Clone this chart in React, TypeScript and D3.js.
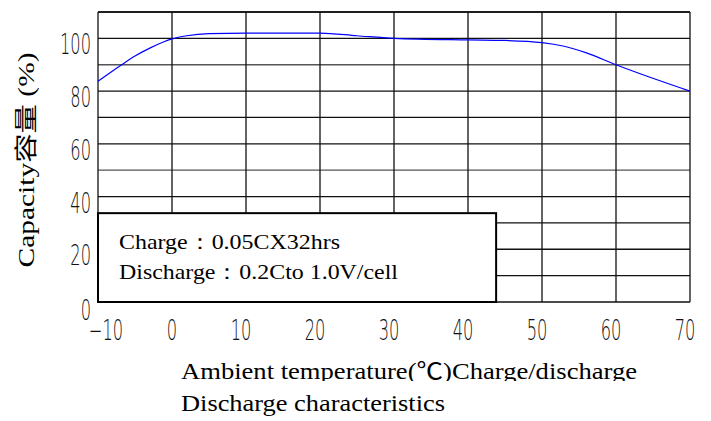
import React, { useEffect, useRef } from "react";
import * as d3 from "d3";

// capacity (%) vs ambient temperature (°C)
const temps = [-10, -7, -5, -3, -1, 0, 2, 5, 10, 20, 25, 30, 40, 45, 50, 53, 56, 60, 70];
const capacity = [83.7, 89.6, 93.3, 96.3, 98.8, 99.8, 101, 101.8, 102, 102, 101, 100, 99.4, 99.2, 98.4, 97, 94.5, 90, 80];

const xTicks = [-10, 0, 10, 20, 30, 40, 50, 60, 70];
const yTicks = [0, 20, 40, 60, 80, 100];
const yGrid = d3.range(0, 111, 10);

const noteLines = ["Charge：0.05CX32hrs", "Discharge：0.2Cto 1.0V/cell"];
const yTitle = "Capacity容量 (%)";
const xTitle1 = "Ambient temperature(℃)Charge/discharge";
const xTitle2 = "Discharge characteristics";

const App = () => {
  const svgRef = useRef(null);
  const width = 711, height = 421;
  const margin = { top: 12, right: 21, bottom: 119, left: 98 };

  useEffect(() => {
    const svg = d3.select(svgRef.current);
    svg.selectAll("*").remove();

    const x = d3.scaleLinear().domain([-10, 70]).range([margin.left, width - margin.right]);
    const y = d3.scaleLinear().domain([0, 110]).range([height - margin.bottom, margin.top]);

    const tickFont = "'DejaVu Sans', sans-serif";

    // grid
    const grid = svg.append("g").attr("stroke", "#111").attr("stroke-width", 1.3);
    grid.selectAll("line.h")
      .data(yGrid)
      .enter()
      .append("line")
      .attr("x1", x(-10)).attr("x2", x(70))
      .attr("y1", d => y(d)).attr("y2", d => y(d))
      .attr("stroke", d => (d === 90 || d === 50 ? "#555" : "#111"));
    grid.selectAll("line.v")
      .data(xTicks)
      .enter()
      .append("line")
      .attr("y1", y(0)).attr("y2", y(110))
      .attr("x1", d => x(d)).attr("x2", d => x(d));
    grid.append("line")
      .attr("x1", x(-10)).attr("x2", x(70))
      .attr("y1", y(110)).attr("y2", y(110));

    // curve
    const line = d3.line()
      .x((d, i) => x(temps[i]))
      .y(d => y(d))
      .curve(d3.curveMonotoneX);
    svg.append("path")
      .datum(capacity)
      .attr("d", line)
      .attr("fill", "none")
      .attr("stroke", "#0000ff")
      .attr("stroke-width", 1.2);

    // note box
    svg.append("rect")
      .attr("x", x(-10)).attr("y", y(33.7))
      .attr("width", x(43.8) - x(-10)).attr("height", y(0) - y(33.7))
      .attr("fill", "#fff").attr("stroke", "#000").attr("stroke-width", 2);
    svg.selectAll("text.note")
      .data(noteLines)
      .enter()
      .append("text")
      .attr("x", 119)
      .attr("y", (d, i) => 249 + i * 30)
      .attr("textLength", (d, i) => (i === 0 ? 221 : 279))
      .attr("lengthAdjust", "spacingAndGlyphs")
      .attr("font-family", "'Liberation Serif', 'Times New Roman', serif")
      .attr("font-size", 21)
      .attr("fill", "#000")
      .text(d => d);

    // y tick labels
    svg.selectAll("text.yt")
      .data(yTicks)
      .enter()
      .append("text")
      .attr("transform", d => `translate(91,${y(d) + (d === 0 ? 18 : 16)}) scale(0.58,1)`)
      .attr("text-anchor", "end")
      .attr("font-family", tickFont)
      .attr("font-weight", 200)
      .attr("font-size", 28)
      .attr("fill", "#111")
      .text(d => d);

    // x tick labels
    svg.selectAll("text.xt")
      .data(xTicks)
      .enter()
      .append("text")
      .attr("transform", d => `translate(${x(d) + (d === -10 ? 8 : d === 0 ? 0 : -5)},340) scale(0.58,1)`)
      .attr("text-anchor", "middle")
      .attr("font-family", tickFont)
      .attr("font-weight", 200)
      .attr("font-size", 28)
      .attr("fill", "#111")
      .text(d => (d < 0 ? "\u2212" + Math.abs(d) : d));

    // y title
    svg.append("text")
      .attr("transform", "translate(34,160) rotate(-90)")
      .attr("text-anchor", "middle")
      .attr("textLength", 215)
      .attr("lengthAdjust", "spacingAndGlyphs")
      .attr("font-family", "'Liberation Serif', 'Noto Sans CJK SC', serif")
      .attr("font-size", 23)
      .attr("fill", "#000")
      .text(yTitle);

    // x titles
    svg.append("clipPath").attr("id", "clipTitle")
      .append("rect").attr("x", 0).attr("y", 0).attr("width", width).attr("height", 381);
    svg.append("text")
      .attr("clip-path", "url(#clipTitle)")
      .attr("x", 181).attr("y", 379)
      .attr("textLength", 456)
      .attr("lengthAdjust", "spacingAndGlyphs")
      .attr("font-family", "'Liberation Serif', 'Noto Sans CJK SC', serif")
      .attr("font-size", 23)
      .attr("fill", "#000")
      .text(xTitle1);
    svg.append("text")
      .attr("x", 181).attr("y", 411)
      .attr("textLength", 264)
      .attr("lengthAdjust", "spacingAndGlyphs")
      .attr("font-family", "'Liberation Serif', serif")
      .attr("font-size", 23)
      .attr("fill", "#000")
      .text(xTitle2);
  }, []);

  return (
    <div>
      <svg
        ref={svgRef}
        width={width}
        height={height}
        style={{ position: "absolute", left: 0, top: 0, background: "#fff" }}
      ></svg>
    </div>
  );
};

export default App;
